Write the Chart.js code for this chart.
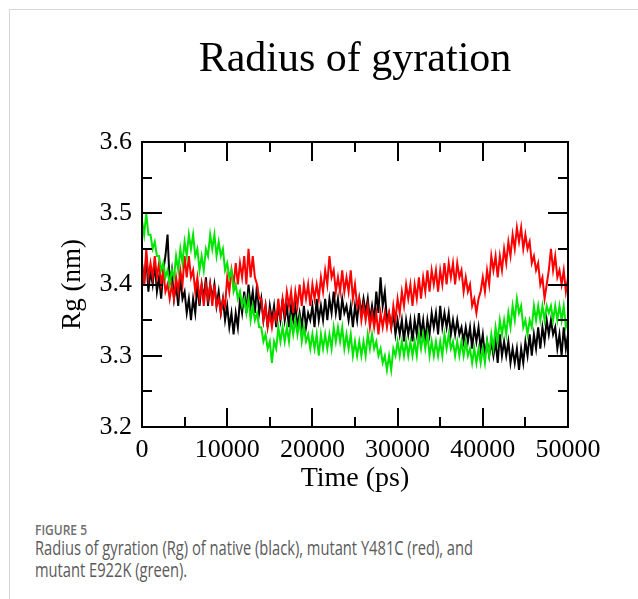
<!DOCTYPE html>
<html>
<head>
<meta charset="utf-8">
<script src="https://cdn.jsdelivr.net/npm/chart.js@4.4.1/dist/chart.umd.min.js"></script>
<style>
  html, body { margin: 0; padding: 0; background: #fff; }
  body { width: 638px; height: 599px; position: relative; overflow: hidden; }
  .card { position: absolute; left: 9px; top: 9px; width: 640px; height: 600px;
    border-top: 1px solid #d6d6d6; border-left: 1px solid #d6d6d6; }
  .chart-box { position: absolute; left: 0; top: 0; width: 638px; height: 500px; }
  .fig-label { position: absolute; left: 35px; top: 520px; white-space: nowrap;
    font: 600 14px 'Open Sans', sans-serif; color: #6e6e6e; transform-origin: left top; }
  .fig-caption { position: absolute; left: 35px; top: 537px; white-space: nowrap;
    font: 400 20px/22px 'Open Sans', sans-serif; color: #5a5a5a; transform-origin: left top; }
</style>
</head>
<body>
<div class="card"></div>
<div class="chart-box"><canvas id="rg"></canvas></div>
<div class="fig-label" id="figLabel">FIGURE 5</div>
<div class="fig-caption" id="figCaption"><span id="cap1">Radius of gyration (Rg) of native (black), mutant Y481C (red), and</span><br><span>mutant E922K (green).</span></div>
<script>
const timeStepPs = 250;

const nativeRg = [
  3.43, 3.40, 3.44, 3.39, 3.42, 3.40, 3.43, 3.39, 3.41, 3.38, 3.42, 3.44, 3.47, 3.40, 3.42, 3.38, 3.40, 3.37, 3.41, 3.38,
  3.39, 3.36, 3.38, 3.35, 3.38, 3.36, 3.40, 3.37, 3.40, 3.38, 3.41, 3.37, 3.40, 3.38, 3.40, 3.37, 3.39, 3.36, 3.38, 3.35,
  3.37, 3.34, 3.36, 3.33, 3.36, 3.34, 3.38, 3.36, 3.39, 3.36, 3.40, 3.37, 3.39, 3.36, 3.40, 3.36, 3.38, 3.35, 3.37, 3.34,
  3.37, 3.35, 3.37, 3.34, 3.37, 3.35, 3.38, 3.35, 3.37, 3.34, 3.37, 3.35, 3.37, 3.34, 3.36, 3.34, 3.37, 3.34, 3.36, 3.35,
  3.37, 3.34, 3.38, 3.35, 3.37, 3.35, 3.38, 3.35, 3.38, 3.36, 3.39, 3.36, 3.38, 3.35, 3.38, 3.36, 3.37, 3.35, 3.37, 3.34,
  3.37, 3.35, 3.38, 3.36, 3.38, 3.36, 3.38, 3.35, 3.37, 3.35, 3.39, 3.36, 3.41, 3.37, 3.39, 3.35, 3.36, 3.34, 3.36, 3.33,
  3.35, 3.33, 3.35, 3.32, 3.35, 3.33, 3.35, 3.32, 3.35, 3.33, 3.36, 3.33, 3.35, 3.32, 3.35, 3.33, 3.36, 3.34, 3.36, 3.33,
  3.37, 3.34, 3.36, 3.34, 3.36, 3.33, 3.35, 3.33, 3.35, 3.33, 3.34, 3.32, 3.34, 3.32, 3.34, 3.31, 3.34, 3.32, 3.34, 3.31,
  3.33, 3.30, 3.32, 3.30, 3.32, 3.30, 3.32, 3.29, 3.33, 3.30, 3.32, 3.30, 3.32, 3.29, 3.31, 3.29, 3.31, 3.28, 3.31, 3.29,
  3.32, 3.30, 3.33, 3.30, 3.33, 3.31, 3.34, 3.31, 3.34, 3.32, 3.35, 3.33, 3.35, 3.33, 3.34, 3.31, 3.33, 3.30, 3.34, 3.31,
  3.33
];

const y481cRg = [
  3.43, 3.40, 3.45, 3.41, 3.43, 3.41, 3.44, 3.41, 3.43, 3.40, 3.42, 3.39, 3.40, 3.38, 3.40, 3.38, 3.41, 3.39, 3.42, 3.40,
  3.44, 3.41, 3.44, 3.41, 3.42, 3.39, 3.41, 3.38, 3.40, 3.37, 3.40, 3.38, 3.40, 3.37, 3.40, 3.37, 3.38, 3.36, 3.38, 3.37,
  3.41, 3.39, 3.42, 3.40, 3.43, 3.40, 3.43, 3.41, 3.44, 3.40, 3.45, 3.41, 3.44, 3.41, 3.40, 3.38, 3.38, 3.35, 3.37, 3.34,
  3.36, 3.34, 3.36, 3.35, 3.38, 3.35, 3.38, 3.36, 3.39, 3.37, 3.39, 3.36, 3.39, 3.37, 3.40, 3.37, 3.40, 3.38, 3.40, 3.37,
  3.40, 3.38, 3.40, 3.38, 3.41, 3.39, 3.42, 3.40, 3.44, 3.41, 3.42, 3.39, 3.41, 3.39, 3.42, 3.39, 3.41, 3.39, 3.42, 3.38,
  3.40, 3.37, 3.38, 3.35, 3.37, 3.35, 3.37, 3.34, 3.36, 3.34, 3.36, 3.33, 3.36, 3.34, 3.36, 3.34, 3.36, 3.34, 3.37, 3.35,
  3.38, 3.36, 3.39, 3.37, 3.40, 3.38, 3.40, 3.37, 3.40, 3.38, 3.41, 3.38, 3.41, 3.39, 3.42, 3.39, 3.42, 3.40, 3.42, 3.39,
  3.42, 3.40, 3.43, 3.40, 3.43, 3.41, 3.43, 3.40, 3.43, 3.41, 3.42, 3.39, 3.41, 3.39, 3.40, 3.37, 3.38, 3.36, 3.38, 3.39,
  3.41, 3.39, 3.42, 3.40, 3.44, 3.42, 3.44, 3.41, 3.44, 3.42, 3.45, 3.43, 3.46, 3.44, 3.47, 3.45, 3.48, 3.46, 3.48, 3.45,
  3.47, 3.45, 3.46, 3.43, 3.44, 3.42, 3.43, 3.40, 3.41, 3.38, 3.40, 3.42, 3.45, 3.42, 3.44, 3.41, 3.42, 3.40, 3.42, 3.39,
  3.41
];

const e922kRg = [
  3.49, 3.47, 3.50, 3.47, 3.47, 3.45, 3.46, 3.44, 3.44, 3.42, 3.43, 3.41, 3.42, 3.40, 3.42, 3.41, 3.44, 3.42, 3.45, 3.43,
  3.46, 3.44, 3.47, 3.45, 3.47, 3.44, 3.45, 3.42, 3.44, 3.42, 3.45, 3.44, 3.47, 3.45, 3.47, 3.44, 3.46, 3.44, 3.45, 3.42,
  3.43, 3.41, 3.42, 3.39, 3.40, 3.38, 3.39, 3.37, 3.38, 3.36, 3.38, 3.35, 3.37, 3.35, 3.36, 3.34, 3.34, 3.32, 3.33, 3.31,
  3.32, 3.29, 3.32, 3.31, 3.34, 3.32, 3.34, 3.32, 3.34, 3.32, 3.35, 3.33, 3.35, 3.33, 3.35, 3.32, 3.34, 3.32, 3.33, 3.31,
  3.33, 3.31, 3.33, 3.30, 3.33, 3.31, 3.33, 3.31, 3.33, 3.31, 3.34, 3.32, 3.34, 3.32, 3.34, 3.31, 3.33, 3.31, 3.33, 3.30,
  3.32, 3.30, 3.32, 3.30, 3.32, 3.30, 3.33, 3.31, 3.33, 3.31, 3.32, 3.30, 3.31, 3.29, 3.30, 3.28, 3.30, 3.28, 3.31, 3.30,
  3.32, 3.30, 3.32, 3.30, 3.32, 3.30, 3.32, 3.30, 3.32, 3.30, 3.33, 3.31, 3.33, 3.31, 3.33, 3.30, 3.32, 3.30, 3.32, 3.30,
  3.32, 3.30, 3.33, 3.31, 3.33, 3.31, 3.32, 3.30, 3.32, 3.30, 3.32, 3.30, 3.32, 3.30, 3.31, 3.29, 3.31, 3.29, 3.31, 3.29,
  3.31, 3.29, 3.32, 3.30, 3.33, 3.31, 3.34, 3.32, 3.35, 3.33, 3.35, 3.33, 3.36, 3.34, 3.37, 3.35, 3.38, 3.36, 3.37, 3.34,
  3.35, 3.33, 3.35, 3.34, 3.37, 3.35, 3.37, 3.35, 3.37, 3.35, 3.37, 3.36, 3.37, 3.35, 3.37, 3.35, 3.37, 3.35, 3.37, 3.34,
  3.35
];

// axis ticks (major ones get a label, minor ones only a short mark)
const xMajorTicks = [0, 10000, 20000, 30000, 40000, 50000];
const xMinorTicks = [5000, 15000, 25000, 35000, 45000];
const yMajorTicks = [3.2, 3.3, 3.4, 3.5, 3.6];
const yMinorTicks = [3.25, 3.35, 3.45, 3.55];

const toPoints = (arr) => arr.map((v, i) => ({ x: i * timeStepPs, y: v }));

const serif = 'Liberation Serif, Times New Roman, serif';

// xmgrace-like frame with ticks pointing inward on all four sides
const innerTicks = {
  id: 'innerTicks',
  afterDatasetsDraw(chart) {
    const { ctx, chartArea: a, scales: { x, y } } = chart;
    ctx.save();
    ctx.strokeStyle = '#000';
    ctx.lineWidth = 2;
    ctx.beginPath();
    x.ticks.forEach((t) => {
      const px = Math.round(x.getPixelForValue(t.value));
      const len = xMajorTicks.includes(t.value) ? 19 : 10;
      ctx.moveTo(px, a.bottom); ctx.lineTo(px, a.bottom - len);
      ctx.moveTo(px, a.top); ctx.lineTo(px, a.top + len);
    });
    y.ticks.forEach((t) => {
      const py = Math.round(y.getPixelForValue(t.value));
      const len = yMajorTicks.includes(t.value) ? 20 : 10;
      ctx.moveTo(a.left, py); ctx.lineTo(a.left + len, py);
      ctx.moveTo(a.right, py); ctx.lineTo(a.right - len, py);
    });
    ctx.stroke();
    ctx.strokeRect(a.left, a.top, a.right - a.left, a.bottom - a.top);
    ctx.restore();
  },
};

const line = (data, color, order) => ({
  data: toPoints(data),
  borderColor: color,
  borderWidth: 2,
  pointRadius: 0,
  tension: 0,
  fill: false,
  order,
});

new Chart(document.getElementById('rg'), {
  type: 'line',
  data: {
    datasets: [
      { label: 'native', ...line(nativeRg, '#000000', 3) },
      { label: 'Y481C', ...line(y481cRg, '#ff0000', 2) },
      { label: 'E922K', ...line(e922kRg, '#00e600', 1) },
    ],
  },
  options: {
    responsive: true,
    maintainAspectRatio: false,
    animation: false,
    devicePixelRatio: 1,
    layout: { padding: { left: 0, right: 70, top: 0, bottom: 0 } },
    plugins: {
      legend: { display: false },
      tooltip: { enabled: false },
      title: {
        display: true,
        fullSize: false,
        text: 'Radius of gyration',
        color: '#000',
        font: { family: serif, size: 42, weight: 'normal' },
        padding: { top: 35, bottom: 56.6 },
      },
    },
    scales: {
      x: {
        type: 'linear',
        min: 0,
        max: 50000,
        grid: { display: false, drawTicks: false },
        border: { display: false },
        afterBuildTicks: (axis) => {
          axis.ticks = [...xMajorTicks, ...xMinorTicks].sort((a, b) => a - b).map((v) => ({ value: v }));
        },
        afterFit: (axis) => { axis.height = 73; },
        ticks: {
          color: '#000',
          font: { family: serif, size: 26 },
          padding: 8,
          maxRotation: 0,
          autoSkip: false,
          callback: (v) => (xMajorTicks.includes(v) ? String(v) : ''),
        },
        title: {
          display: true,
          text: 'Time (ps)',
          color: '#000',
          font: { family: serif, size: 28 },
          padding: { top: 0, bottom: 5 },
        },
      },
      y: {
        min: 3.2,
        max: 3.6,
        grid: { display: false, drawTicks: false },
        border: { display: false },
        afterBuildTicks: (axis) => {
          axis.ticks = [...yMajorTicks, ...yMinorTicks].sort((a, b) => a - b).map((v) => ({ value: v }));
        },
        afterFit: (axis) => { axis.width = 142; },
        ticks: {
          color: '#000',
          font: { family: serif, size: 26 },
          padding: 10,
          autoSkip: false,
          callback: (v) => (yMajorTicks.includes(v) ? v.toFixed(1) : ''),
        },
        title: {
          display: true,
          text: 'Rg (nm)',
          color: '#000',
          font: { family: serif, size: 27 },
          padding: { top: 57, bottom: 0 },
        },
      },
    },
  },
  plugins: [innerTicks],
});

// the caption font in the figure is narrow; squeeze it to the measured widths
const fit = (el, target) => {
  const w = el.getBoundingClientRect().width;
  return w > 0 ? target / w : 1;
};
const capEl = document.getElementById('figCaption');
capEl.style.transform = `scaleX(${fit(document.getElementById('cap1'), 438)})`;
const labEl = document.getElementById('figLabel');
labEl.style.transform = `scaleX(${fit(labEl, 52)})`;
</script>
</body>
</html>
